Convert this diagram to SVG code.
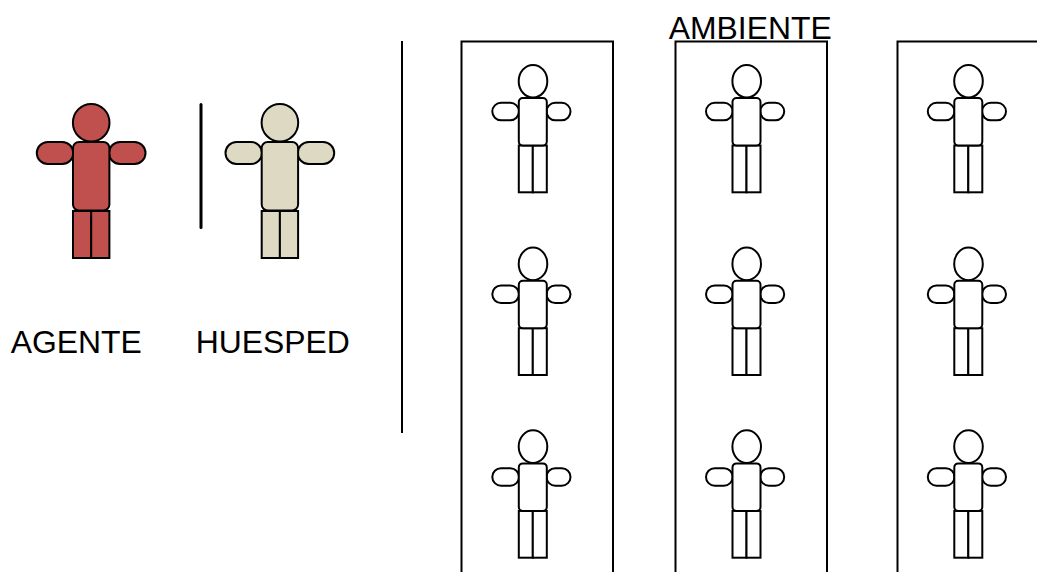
<svg xmlns="http://www.w3.org/2000/svg" width="1037" height="572" viewBox="0 0 1037 572">
<style>
.l{font-family:"Liberation Sans",Arial,sans-serif;font-size:31.9px;fill:#000}
.s{stroke:#000;stroke-width:2;fill:none}
.t{stroke:#000;stroke-width:3;fill:none;stroke-linecap:round}
.f{stroke:#000;stroke-width:2;fill:#fff}
.big{stroke:#000;stroke-width:2}
.a{fill:#c0504d}
.h{fill:#ddd9c3}
</style>
<defs>
<g id="small">
<rect class="f" x="492.300" y="102.800" width="26.700" height="17.500" rx="8.750"/>
<rect class="f" x="546.500" y="102.800" width="24" height="17.500" rx="8.750"/>
<ellipse class="f" cx="533" cy="81.200" rx="14.300" ry="16.300"/>
<rect class="f" x="518.800" y="145.500" width="14" height="46.800"/>
<rect class="f" x="532.800" y="145.500" width="14" height="46.800"/>
<rect class="f" x="518.800" y="98" width="28" height="47.500" rx="4"/>
</g>
<g id="big">
<rect class="big" x="36.800" y="142" width="36.500" height="22" rx="11"/>
<rect class="big" x="109" y="142" width="36.500" height="22" rx="11"/>
<ellipse class="big" cx="91.200" cy="122.700" rx="18.300" ry="18.800"/>
<rect class="big" x="73" y="211" width="18.200" height="47"/>
<rect class="big" x="91.200" y="211" width="18.200" height="47"/>
<rect class="big" x="73" y="142" width="36.400" height="68.500" rx="6"/>
</g>
</defs>
<g id="connectors">
<line class="t" x1="201" y1="104.500" x2="201" y2="227.500"/>
<line class="s" x1="402" y1="41" x2="402" y2="433"/>
</g>
<g id="frames">
<rect id="frame-1" class="s" x="461.500" y="41.500" width="151.500" height="560"/>
<rect id="frame-2" class="s" x="675.500" y="41.500" width="151.500" height="560"/>
<rect id="frame-3" class="s" x="897.500" y="41.500" width="170" height="560"/>
</g>
<g id="agente" class="a"><use href="#big"/></g>
<g id="huesped" class="h"><use href="#big" x="188.700"/></g>
<g id="p11"><use href="#small"/></g>
<g id="p12"><use href="#small" x="213.700"/></g>
<g id="p13"><use href="#small" x="435.500"/></g>
<g id="p21"><use href="#small" y="182.700"/></g>
<g id="p22"><use href="#small" x="213.700" y="182.700"/></g>
<g id="p23"><use href="#small" x="435.500" y="182.700"/></g>
<g id="p31"><use href="#small" y="365.400"/></g>
<g id="p32"><use href="#small" x="213.700" y="365.400"/></g>
<g id="p33"><use href="#small" x="435.500" y="365.400"/></g>
<g id="labels">
<text class="l" x="10.700" y="353">AGENTE</text>
<text class="l" x="195.700" y="353">HUESPED</text>
<text class="l" x="668.700" y="39">AMBIENTE</text>
</g>
</svg>
